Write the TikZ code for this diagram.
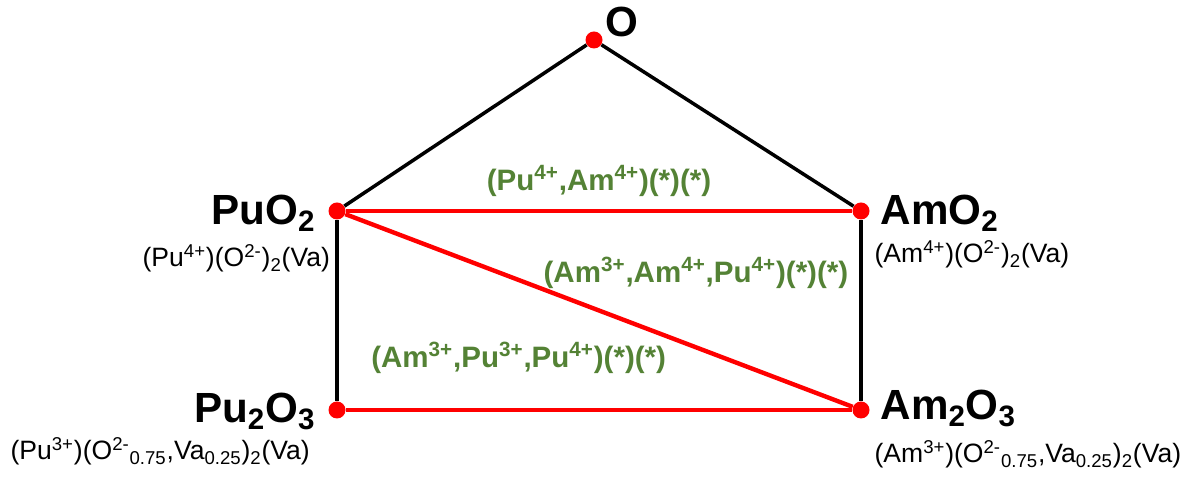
\documentclass[tikz,border=0pt]{standalone}
\usepackage{fontspec}
\setmainfont{Liberation Sans}
\usetikzlibrary{positioning}
\definecolor{phasered}{RGB}{255,0,0}
\definecolor{modelgreen}{RGB}{84,130,53}

\begin{document}
\begin{tikzpicture}[
    phase/.style={circle, fill=phasered, inner sep=0pt, minimum size=0.34cm},
    oxide/.style={font=\fontsize{24}{28}\selectfont\bfseries, inner sep=1pt},
    sublat/.style={font=\fontsize{15.1}{18}\selectfont, inner sep=1pt},
    model/.style={font=\fontsize{16.8}{20}\selectfont\bfseries, text=modelgreen, inner sep=1pt},
    frame/.style={line width=2pt, black},
    tie/.style={line width=2.5pt, phasered}
]
\useasboundingbox (0,0) rectangle (23.84,9.54);

% end members
\node[phase] (O) at (11.88,8.74) {};
\node[phase] (PuO2) at (6.74,5.32) {};
\node[phase] (AmO2) at (17.22,5.32) {};
\node[phase] (Pu2O3) at (6.74,1.34) {};
\node[phase] (Am2O3) at (17.22,1.34) {};

% oxide names
\node[oxide] (Olbl) at (12.44,9.10) {O};
\node[oxide, anchor=base east] (PuO2lbl) at (6.35,5.04) {PuO\textsubscript{2}};
\node[oxide, anchor=base west] (AmO2lbl) at (17.57,5.04) {AmO\textsubscript{2}};
\node[oxide, anchor=base east] (Pu2O3lbl) at (6.35,1.08) {Pu\textsubscript{2}O\textsubscript{3}};
\node[oxide, anchor=base west] (Am2O3lbl) at (17.57,1.14) {Am\textsubscript{2}O\textsubscript{3}};

% sublattice formulas
\node[sublat, anchor=base east] (PuO2sub) at (6.64,4.20)
    {(Pu\textsuperscript{4+})(O\textsuperscript{2-})\textsubscript{2}(Va)};
\node[sublat, anchor=base west] (AmO2sub) at (17.45,4.28)
    {(Am\textsuperscript{4+})(O\textsuperscript{2-})\textsubscript{2}(Va)};
\node[sublat, anchor=base west] (Pu2O3sub) at (0.17,0.34)
    {(Pu\textsuperscript{3+})(O\textsuperscript{2-}\textsubscript{0.75},Va\textsubscript{0.25})\textsubscript{2}(Va)};
\node[sublat, anchor=base west] (Am2O3sub) at (17.45,0.28)
    {(Am\textsuperscript{3+})(O\textsuperscript{2-}\textsubscript{0.75},Va\textsubscript{0.25})\textsubscript{2}(Va)};

% frame
\draw[frame] (O) -- (PuO2);
\draw[frame] (O) -- (AmO2);
\draw[frame] (PuO2) -- (Pu2O3);
\draw[frame] (AmO2) -- (Am2O3);

% tie lines with their models
\draw[tie] (PuO2) -- (AmO2)
    node[model, midway, anchor=base, yshift=0.40cm] (tieIV)
    {(Pu\textsuperscript{4+},Am\textsuperscript{4+})(*)(*)};
\draw[tie] (Pu2O3) -- (Am2O3);
\draw[tie] (PuO2) -- (Am2O3)
    node[model, pos=0.393, anchor=base west, yshift=0.14cm, xshift=-0.1cm] (tieAm)
    {(Am\textsuperscript{3+},Am\textsuperscript{4+},Pu\textsuperscript{4+})(*)(*)}
    node[model, pos=0.628, anchor=base east, yshift=-0.64cm, xshift=0.12cm] (tiePu)
    {(Am\textsuperscript{3+},Pu\textsuperscript{3+},Pu\textsuperscript{4+})(*)(*)};
\end{tikzpicture}
\end{document}
